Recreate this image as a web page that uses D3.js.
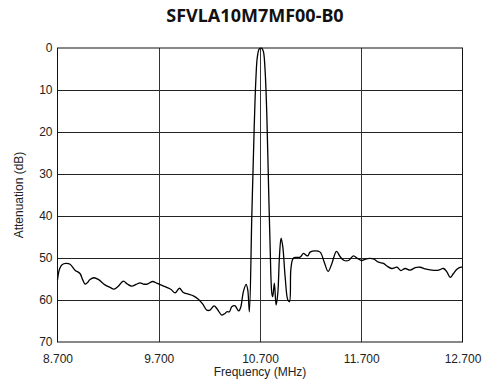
<!DOCTYPE html>
<html><head><meta charset="utf-8">
<script src="https://cdn.jsdelivr.net/npm/d3@7"></script>
<style>body{margin:0;background:#fff}svg{display:block}</style>
</head><body>
<script>
const title = "SFVLA10M7MF00-B0";
const xTicks = [8.7, 9.7, 10.7, 11.7, 12.7];
const yTicks = [0, 10, 20, 30, 40, 50, 60, 70];
const freq = [8.700,8.720,8.745,8.784,8.824,8.873,8.922,8.949,8.972,8.994,9.021,9.061,9.103,9.169,9.219,9.258,9.301,9.350,9.390,9.433,9.476,9.515,9.548,9.587,9.641,9.680,9.720,9.779,9.822,9.861,9.904,9.943,9.992,10.042,10.091,10.135,10.174,10.207,10.246,10.279,10.323,10.355,10.372,10.398,10.421,10.454,10.471,10.491,10.510,10.536,10.563,10.579,10.595,10.619,10.642,10.659,10.674,10.694,10.718,10.734,10.750,10.767,10.783,10.800,10.817,10.826,10.842,10.859,10.876,10.892,10.908,10.925,10.948,10.975,10.991,11.004,11.020,11.037,11.096,11.129,11.153,11.172,11.195,11.245,11.294,11.333,11.373,11.410,11.455,11.492,11.531,11.574,11.623,11.662,11.706,11.736,11.788,11.827,11.870,11.919,11.953,12.002,12.052,12.091,12.134,12.183,12.233,12.282,12.331,12.398,12.463,12.512,12.546,12.578,12.611,12.645,12.684,12.700];
const atten = [55.2,52.6,51.6,51.3,51.5,52.9,53.7,55.2,56.2,55.9,55.1,54.7,55.1,56.4,57.0,57.4,56.7,55.5,56.2,56.7,56.3,55.9,56.2,56.2,55.6,56.0,56.4,57.0,57.5,58.3,57.2,58.2,58.6,59.0,59.8,61.0,62.4,62.4,61.4,62.2,63.6,63.2,62.8,62.8,61.6,61.4,62.0,62.6,61.7,58.0,56.3,57.6,62.8,40.2,19.5,7.6,2.1,0.2,0.1,0.9,5.2,15.6,31.4,47.3,58.4,59.2,56.0,61.2,58.4,49.7,45.3,47.3,54.4,60.0,60.4,52.9,50.5,49.9,49.8,48.9,49.3,49.5,48.6,48.3,48.6,50.9,53.2,51.3,48.4,49.7,50.6,50.6,49.5,50.1,50.6,50.3,50.1,50.3,51.0,51.3,51.9,52.5,52.2,53.0,52.5,52.9,52.3,52.2,52.6,52.9,52.9,52.5,53.3,54.6,53.7,52.7,52.2,52.2];

const W = 487, H = 386;
const m = {left: 57.5, right: 462.5, top: 48, bottom: 342};
const svg = d3.select("body").append("svg").attr("width", W).attr("height", H);
const x = d3.scaleLinear().domain([8.7, 12.7]).range([m.left, m.right]);
const y = d3.scaleLinear().domain([0, 70]).range([m.top, m.bottom]);

// title
svg.append("text").attr("x", 255).attr("y", 22).attr("text-anchor", "middle")
  .attr("font-family", "'Noto Sans', sans-serif").attr("font-weight", "bold").attr("font-size", 18)
  .attr("fill", "#111").text(title);

// grid
const g = svg.append("g");
g.selectAll("line.h").data(yTicks.slice(1, -1)).enter().append("line")
  .attr("x1", m.left).attr("x2", m.right).attr("y1", d => Math.round(y(d)) + 0.5).attr("y2", d => Math.round(y(d)) + 0.5)
  .attr("stroke", "#222").attr("stroke-width", 1);
g.selectAll("line.v").data(xTicks.slice(1, -1)).enter().append("line")
  .attr("y1", m.top).attr("y2", m.bottom).attr("x1", d => Math.round(x(d)) + 0.5).attr("x2", d => Math.round(x(d)) + 0.5)
  .attr("stroke", "#333").attr("stroke-width", 1);

// curve
const line = d3.line().x((d, i) => x(freq[i])).y(d => y(d)).curve(d3.curveCatmullRom.alpha(0.5));
svg.append("path").datum(atten).attr("d", line).attr("fill", "none").attr("stroke", "#000").attr("stroke-width", 1.3);

// frame
svg.append("rect").attr("x", m.left).attr("y", m.top).attr("width", m.right - m.left).attr("height", m.bottom - m.top)
  .attr("fill", "none").attr("stroke", "#111").attr("stroke-width", 1);

// axes
const xAxis = d3.axisBottom(x).tickValues(xTicks).tickSize(0).tickPadding(6).tickFormat(d3.format(".3f"));
const ax = svg.append("g").attr("transform", `translate(0,${m.bottom})`).call(xAxis);
ax.select(".domain").remove();
ax.selectAll("text").attr("font-family", "'Liberation Sans', Arial, sans-serif").attr("font-size", 12).attr("fill", "#222").attr("dy", "0.71em").attr("y", 12);

const yAxis = d3.axisLeft(y).tickValues(yTicks).tickSize(0).tickPadding(5);
const ay = svg.append("g").attr("transform", `translate(${m.left},0)`).call(yAxis);
ay.select(".domain").remove();
ay.selectAll("text").attr("font-family", "'Liberation Sans', Arial, sans-serif").attr("font-size", 12).attr("fill", "#222");

svg.append("text").attr("x", 260).attr("y", 376).attr("text-anchor", "middle")
  .attr("font-family", "'Liberation Sans', Arial, sans-serif").attr("font-size", 12).attr("fill", "#222").text("Frequency (MHz)");
svg.append("text").attr("transform", "translate(23,195) rotate(-90)").attr("text-anchor", "middle")
  .attr("font-family", "'Liberation Sans', Arial, sans-serif").attr("font-size", 12).attr("fill", "#222").text("Attenuation (dB)");
</script>
</body></html>
